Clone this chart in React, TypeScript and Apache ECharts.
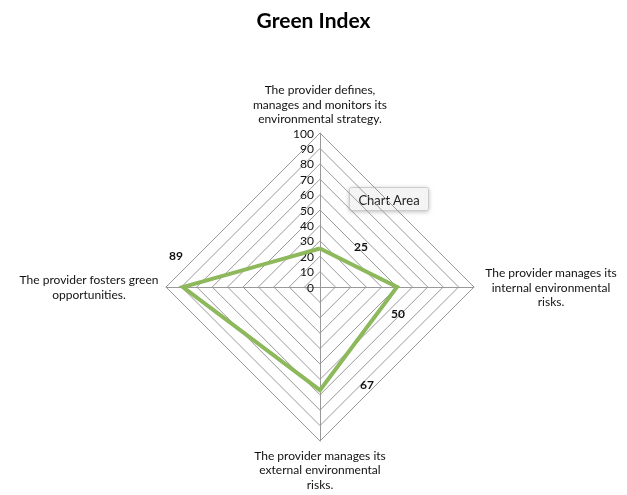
import React, { useEffect, useRef } from 'react';
import * as echarts from 'echarts';

const indicatorNames = [
  'The provider defines,\nmanages and monitors its\nenvironmental strategy.',
  'The provider fosters green\nopportunities.',
  'The provider manages its\nexternal environmental\nrisks.',
  'The provider manages its\ninternal environmental\nrisks.',
];
const scores = [25, 89, 67, 50];
const axisMax = 100;
const splitCount = 10;
const titleText = 'Green Index';
const tooltipText = 'Chart Area';

// label offsets (style only): [dx, dy] from the vertex
const labelShift: number[][] = [
  [41, -2],
  [-7, -32],
  [47, -6],
  [1, 26],
];

const FONT = 'Lato, "Open Sans", sans-serif';

export default function App() {
  const ref = useRef<HTMLDivElement>(null);
  useEffect(() => {
    if (!ref.current) return;
    const chart = echarts.init(ref.current, undefined, { renderer: 'svg' });
    const rich: Record<string, any> = {};
    labelShift.forEach(([dx, dy], i) => {
      rich['l' + i] = {
        fontSize: 12,
        fontWeight: 'bold',
        color: '#111',
        fontFamily: FONT,
        padding: [Math.max(0, 2 * dy), Math.max(0, -2 * dx), Math.max(0, -2 * dy), Math.max(0, 2 * dx)],
      };
    });
    chart.setOption({
      animation: false,
      title: {
        text: titleText,
        left: 'center',
        top: 4,
        textStyle: { fontSize: 21, fontWeight: 'bold', color: '#000', fontFamily: FONT },
      },
      radar: {
        center: [320, 287],
        radius: 154,
        shape: 'polygon',
        splitNumber: splitCount,
        nameGap: 7,
        axisName: {
          color: '#111',
          fontSize: 12,
          fontFamily: FONT,
          lineHeight: 14,
          formatter: (name: string) =>
            name
              .split('\n')
              .map((l) => '{n|' + l + '}')
              .join('\n'),
          rich: {
            n: { width: 140, align: 'center', fontSize: 12, fontFamily: FONT, color: '#111', lineHeight: 14.5 },
          },
        },
        axisLabel: { show: true, fontSize: 12, color: '#111', fontFamily: FONT, margin: 6 },
        axisLine: { lineStyle: { color: '#999999', width: 1 } },
        splitLine: { lineStyle: { color: '#999999', width: 1 } },
        splitArea: { show: false },
        indicator: indicatorNames.map((name, i) => ({
          name,
          min: 0,
          max: axisMax,
          ...(i === 0 ? {} : { axisLabel: { show: false } }),
        })),
      },
      graphic: [
        {
          type: 'group',
          left: 349,
          top: 187,
          children: [
            {
              type: 'rect',
              shape: { x: 0, y: 0, width: 79, height: 23, r: 2 },
              style: {
                fill: '#f4f4f4',
                stroke: '#cccccc',
                lineWidth: 1,
                shadowBlur: 4,
                shadowOffsetY: 1,
                shadowColor: 'rgba(0,0,0,0.25)',
              },
            },
            {
              type: 'text',
              x: 39.5,
              y: 12,
              style: {
                text: tooltipText,
                fontSize: 13,
                fontFamily: FONT,
                fill: '#222',
                align: 'center',
                verticalAlign: 'middle',
              },
            },
          ],
        },
      ],
      series: [
        {
          type: 'radar',
          symbol: 'circle',
          symbolSize: 2,
          itemStyle: { color: '#8db85b' },
          lineStyle: { color: '#8db85b', width: 4, join: 'miter' },
          label: {
            show: true,
            position: 'inside',
            formatter: (p: any) => {
              const idx = scores.indexOf(p.value);
              return '{l' + idx + '|' + p.value + '}';
            },
            rich,
          },
          data: [{ value: scores, name: titleText }],
        },
      ],
    });
    return () => chart.dispose();
  }, []);
  return <div ref={ref} style={{ position: 'fixed', left: 0, top: 0, width: 627, height: 495 }} />;
}
